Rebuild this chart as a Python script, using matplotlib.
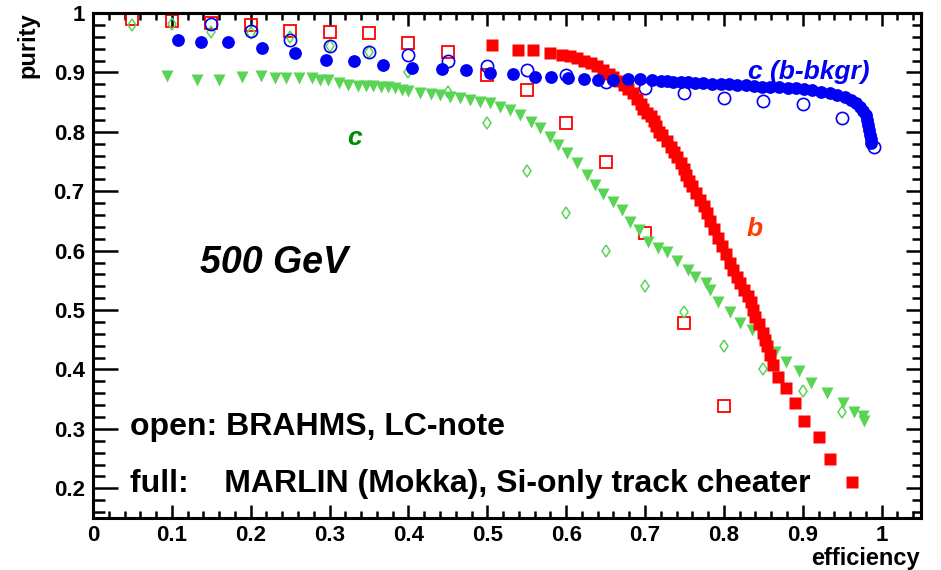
import matplotlib
matplotlib.use("Agg")
import matplotlib.pyplot as plt
from matplotlib.ticker import FixedLocator, FixedFormatter, MultipleLocator

plt.rcParams["font.family"] = ["Liberation Sans", "DejaVu Sans"]
plt.rcParams["font.weight"] = "bold"

# ── open markers: BRAHMS, LC-note ──
brahms_b_eff = [0.05, 0.10, 0.15, 0.20, 0.25, 0.30, 0.35, 0.40, 0.45, 0.50,
                0.55, 0.60, 0.65, 0.70, 0.75, 0.80]
brahms_b_pur = [0.990, 0.987, 0.983, 0.980, 0.970, 0.968, 0.966, 0.950, 0.935, 0.896,
                0.870, 0.815, 0.750, 0.630, 0.479, 0.339]

brahms_cb_eff = [0.15, 0.20, 0.25, 0.30, 0.35, 0.40, 0.45, 0.50, 0.55, 0.60,
                 0.65, 0.70, 0.75, 0.80, 0.85, 0.90, 0.95, 0.99]
brahms_cb_pur = [0.981, 0.970, 0.955, 0.945, 0.935, 0.930, 0.920, 0.910, 0.904, 0.896,
                 0.884, 0.874, 0.866, 0.857, 0.852, 0.847, 0.824, 0.775]

brahms_c_eff = [0.05, 0.10, 0.15, 0.20, 0.25, 0.30, 0.35, 0.40, 0.45, 0.50,
                0.55, 0.60, 0.65, 0.70, 0.75, 0.80, 0.85, 0.90, 0.95]
brahms_c_pur = [0.980, 0.981, 0.968, 0.966, 0.960, 0.945, 0.935, 0.900, 0.867, 0.815,
                0.734, 0.664, 0.600, 0.540, 0.496, 0.439, 0.400, 0.363, 0.328]

# ── full markers: MARLIN (Mokka), Si-only track cheater ──
marlin_b_eff = [0.506, 0.539, 0.558, 0.579, 0.595, 0.605, 0.614, 0.622, 0.631, 0.639,
                0.647, 0.654, 0.660, 0.667, 0.673, 0.679, 0.685, 0.690, 0.695, 0.698,
                0.703, 0.708, 0.711, 0.714, 0.718, 0.722, 0.728, 0.733, 0.737, 0.741,
                0.745, 0.749, 0.752, 0.756, 0.760, 0.765, 0.770, 0.775, 0.779, 0.783,
                0.787, 0.792, 0.798, 0.803, 0.808, 0.812, 0.817, 0.821, 0.825, 0.830,
                0.834, 0.837, 0.840, 0.845, 0.849, 0.852, 0.855, 0.858, 0.862, 0.868,
                0.879, 0.890, 0.901, 0.920, 0.934, 0.963]
marlin_b_pur = [0.946, 0.938, 0.938, 0.933, 0.929, 0.927, 0.924, 0.920, 0.916, 0.910,
                0.904, 0.898, 0.892, 0.885, 0.879, 0.872, 0.866, 0.856, 0.846, 0.838,
                0.832, 0.826, 0.818, 0.810, 0.800, 0.794, 0.784, 0.775, 0.766, 0.758,
                0.748, 0.738, 0.728, 0.718, 0.708, 0.697, 0.686, 0.675, 0.664, 0.650,
                0.636, 0.622, 0.607, 0.594, 0.580, 0.568, 0.556, 0.545, 0.534, 0.523,
                0.513, 0.500, 0.489, 0.476, 0.462, 0.450, 0.439, 0.424, 0.408, 0.388,
                0.368, 0.343, 0.314, 0.286, 0.250, 0.210]

marlin_cb_eff = [0.108, 0.137, 0.171, 0.214, 0.256, 0.296, 0.331, 0.368, 0.405, 0.442,
                 0.473, 0.504, 0.532, 0.560, 0.581, 0.602, 0.622, 0.641, 0.659, 0.678,
                 0.694, 0.709, 0.720, 0.728, 0.736, 0.745, 0.754, 0.764, 0.774, 0.785,
                 0.796, 0.806, 0.817, 0.828, 0.838, 0.848, 0.859, 0.870, 0.881, 0.891,
                 0.901, 0.912, 0.923, 0.934, 0.944, 0.953, 0.961, 0.967, 0.973, 0.977,
                 0.980, 0.982, 0.983, 0.984, 0.985, 0.986, 0.986]
marlin_cb_pur = [0.955, 0.951, 0.951, 0.941, 0.933, 0.921, 0.919, 0.913, 0.908, 0.906,
                 0.904, 0.899, 0.897, 0.892, 0.892, 0.891, 0.889, 0.887, 0.888, 0.889,
                 0.889, 0.887, 0.886, 0.885, 0.884, 0.884, 0.884, 0.883, 0.882, 0.881,
                 0.881, 0.880, 0.879, 0.878, 0.877, 0.876, 0.876, 0.875, 0.874, 0.873,
                 0.872, 0.870, 0.867, 0.865, 0.862, 0.858, 0.854, 0.848, 0.842, 0.835,
                 0.829, 0.820, 0.812, 0.803, 0.795, 0.788, 0.782]

marlin_c_eff = [0.094, 0.132, 0.160, 0.189, 0.213, 0.231, 0.245, 0.261, 0.278, 0.288,
                0.298, 0.312, 0.324, 0.336, 0.346, 0.355, 0.365, 0.374, 0.383, 0.392,
                0.400, 0.415, 0.428, 0.440, 0.453, 0.466, 0.478, 0.491, 0.504, 0.516,
                0.529, 0.542, 0.555, 0.567, 0.580, 0.590, 0.601, 0.614, 0.627, 0.637,
                0.647, 0.660, 0.671, 0.681, 0.692, 0.704, 0.716, 0.728, 0.741, 0.754,
                0.764, 0.777, 0.783, 0.793, 0.808, 0.821, 0.836, 0.850, 0.865, 0.879,
                0.895, 0.911, 0.931, 0.951, 0.965, 0.976, 0.978]
marlin_c_pur = [0.894, 0.887, 0.887, 0.892, 0.894, 0.890, 0.890, 0.890, 0.890, 0.887,
                0.887, 0.882, 0.879, 0.877, 0.877, 0.877, 0.876, 0.876, 0.874, 0.871,
                0.869, 0.866, 0.864, 0.862, 0.859, 0.857, 0.854, 0.850, 0.849, 0.842,
                0.837, 0.829, 0.817, 0.807, 0.792, 0.778, 0.765, 0.748, 0.728, 0.711,
                0.695, 0.682, 0.669, 0.649, 0.635, 0.615, 0.605, 0.597, 0.582, 0.568,
                0.556, 0.546, 0.534, 0.514, 0.496, 0.479, 0.467, 0.454, 0.430, 0.413,
                0.397, 0.378, 0.360, 0.343, 0.329, 0.321, 0.313]

x_ticks = [0, 0.1, 0.2, 0.3, 0.4, 0.5, 0.6, 0.7, 0.8, 0.9, 1.0]
x_labels = ["0", "0.1", "0.2", "0.3", "0.4", "0.5", "0.6", "0.7", "0.8", "0.9", "1"]
y_ticks = [0.2, 0.3, 0.4, 0.5, 0.6, 0.7, 0.8, 0.9, 1.0]
y_labels = ["0.2", "0.3", "0.4", "0.5", "0.6", "0.7", "0.8", "0.9", "1"]

RED = "#ff0000"
BLUE = "#0000f5"
GREEN = "#59d454"

fig = plt.figure(figsize=(9.41, 5.70), dpi=100)
ax = fig.add_axes([0.0988, 0.0912, 0.88, 0.886])

# open markers
ax.plot(brahms_b_eff, brahms_b_pur, ls="none", marker="s", ms=9, mfc="none", mec=RED, mew=1.3)
ax.plot(brahms_c_eff, brahms_c_pur, ls="none", marker="d", ms=6.6, mfc="none", mec=GREEN, mew=1.1)
ax.plot(brahms_cb_eff, brahms_cb_pur, ls="none", marker="o", ms=8.8, mfc="none", mec=BLUE, mew=1.2)
# full markers
ax.plot(marlin_c_eff, marlin_c_pur, ls="none", marker="v", ms=9, color=GREEN, mec="none")
ax.plot(marlin_b_eff, marlin_b_pur, ls="none", marker="s", ms=8.8, color=RED, mec="none")
ax.plot(marlin_cb_eff, marlin_cb_pur, ls="none", marker="o", ms=9.2, color=BLUE, mec="none")

ax.set_xlim(0, 1.05)
ax.set_ylim(0.15, 1.0)

ax.xaxis.set_major_locator(FixedLocator(x_ticks))
ax.xaxis.set_major_formatter(FixedFormatter(x_labels))
ax.yaxis.set_major_locator(FixedLocator(y_ticks))
ax.yaxis.set_major_formatter(FixedFormatter(y_labels))
ax.xaxis.set_minor_locator(MultipleLocator(0.02))
ax.yaxis.set_minor_locator(MultipleLocator(0.02))

ax.tick_params(axis="both", which="both", direction="in", width=1.8, labelsize=16,
               top=False, right=False)
ax.tick_params(axis="x", which="major", length=9.5, pad=5)
ax.tick_params(axis="x", which="minor", length=5)
ax.tick_params(axis="y", which="major", length=18, pad=6)
ax.tick_params(axis="y", which="minor", length=8.6)

# top / right ticks without labels
top = ax.secondary_xaxis("top")
top.xaxis.set_major_locator(FixedLocator(x_ticks))
top.xaxis.set_minor_locator(MultipleLocator(0.02))
top.tick_params(which="both", direction="in", width=1.8, labeltop=False)
top.tick_params(which="major", length=9.5)
top.tick_params(which="minor", length=5)
right = ax.secondary_yaxis("right")
right.yaxis.set_major_locator(FixedLocator(y_ticks))
right.yaxis.set_minor_locator(MultipleLocator(0.02))
right.tick_params(which="both", direction="in", width=1.8, labelright=False)
right.tick_params(which="major", length=11)
right.tick_params(which="minor", length=6.5)

for sp in list(ax.spines.values()) + [top.spines["top"], right.spines["right"]]:
    sp.set_linewidth(2.2)

fig.text(28 / 941, 1 - 12 / 570, "purity", rotation=90, ha="center", va="top", fontsize=17)
fig.text(920 / 941, 1 - 559 / 570, "efficiency", ha="right", va="center", fontsize=17)

ax.text(0.136, 0.580, "500 GeV", fontsize=27, style="italic", va="center")
ax.text(0.047, 0.3025, "open: BRAHMS, LC-note", fontsize=23, va="center")
ax.text(0.047, 0.207, "full:    MARLIN (Mokka), Si-only track cheater", fontsize=23, va="center")
ax.text(0.830, 0.900, "c (b-bkgr)", fontsize=19, style="italic", color=BLUE, va="center")
ax.text(0.322, 0.790, "c", fontsize=19, style="italic", color="#008a00", va="center")
ax.text(0.829, 0.636, "b", fontsize=19, style="italic", color="#ff3a00", va="center")

fig.savefig("out.png", dpi=100)
